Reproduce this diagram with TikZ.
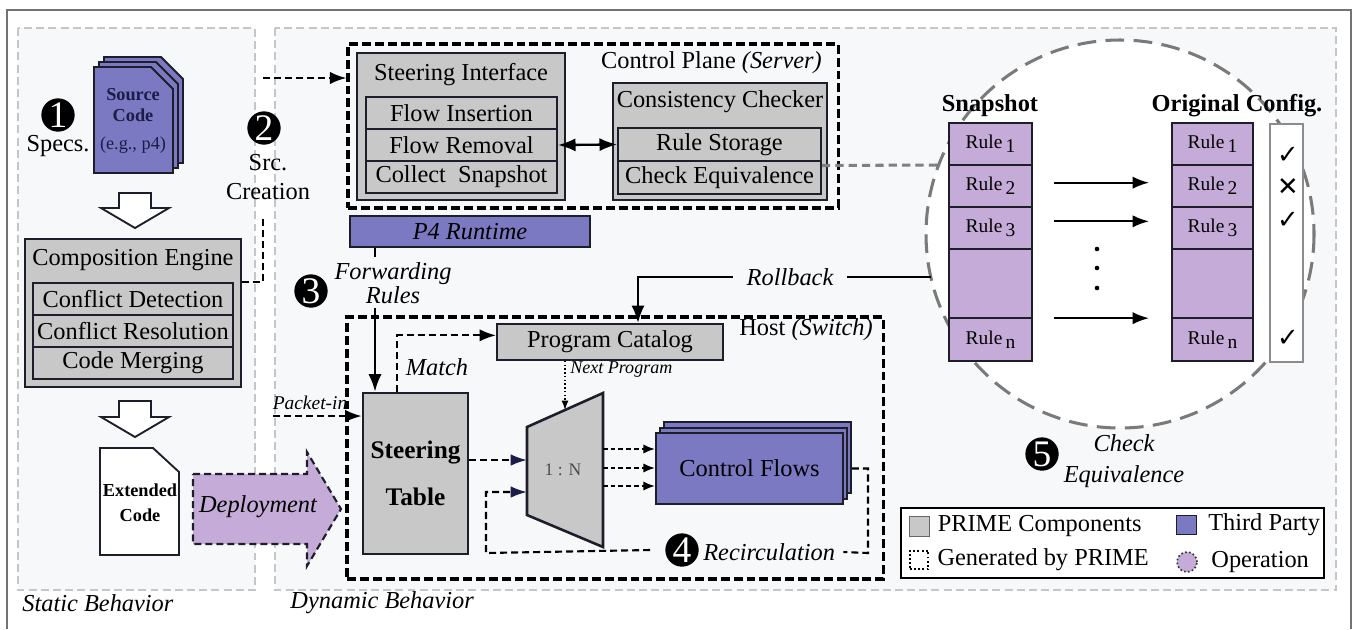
\documentclass[tikz,border=0pt]{standalone}
\usepackage{fontspec}
\setmainfont{Liberation Serif}
\newfontfamily\marksfont{DejaVu Sans}
\usetikzlibrary{arrows.meta,calc,positioning,shadows}

\definecolor{compgray}{HTML}{C8C8C8}
\definecolor{partyblue}{HTML}{7B79C1}
\definecolor{opviolet}{HTML}{C5ABD8}
\definecolor{regionfill}{HTML}{F6F8FA}
\definecolor{regionline}{HTML}{C6C6C6}
\definecolor{boxline}{HTML}{1E1E2A}
\definecolor{navy}{HTML}{1C1C48}

\tikzset{
  every node/.style={font=\fontsize{10.4}{12.5}\selectfont},
  ital/.style={font=\fontsize{10.4}{12.5}\selectfont\itshape},
  bld/.style={font=\fontsize{10.4}{12.5}\selectfont\bfseries},
  region/.style={draw=regionline,fill=regionfill,line width=1pt,dash pattern=on 3.4pt off 1.8pt},
  comp/.style={draw=boxline,fill=compgray,line width=1.1pt,inner sep=0pt},
  row/.style={draw=boxline,fill=compgray,line width=0.8pt,inner sep=0pt,minimum height=0.48cm},
  party/.style={draw=boxline,fill=partyblue,line width=0.8pt,inner sep=0pt},
  genbox/.style={draw=black,line width=1.3pt,dash pattern=on 3.8pt off 1.7pt,inner sep=0pt},
  genline/.style={line width=0.9pt,dash pattern=on 3pt off 1.7pt},
  badge/.style={circle,fill=black,text=white,inner sep=0pt,minimum size=0.5cm,font=\fontsize{16}{16}\selectfont},
  rulebox/.style={draw=boxline,fill=opviolet,line width=0.8pt,inner sep=0pt,font=\fontsize{8.3}{10}\selectfont},
  circdash/.style={draw=black!52,line width=1.3pt,dash pattern=on 8pt off 4pt},
  tickmark/.style={font=\marksfont\fontsize{11}{12}\selectfont}
}

\begin{document}
\begin{tikzpicture}[x=0.015cm,y=-0.015cm]
\def\rl#1{Rule\,\raisebox{-0.45ex}{#1}}
\useasboundingbox (0,0) rectangle (1358,629);
\draw[black!55,line width=0.7pt] (7,629) -- (7,10) -- (1351,10) -- (1351,629);
\draw[region] (18,28) rectangle (255,590);
\draw[region] (275,28) rectangle (1336,590);
\node[ital,anchor=west,inner sep=0pt] (static) at (22,603) {Static Behavior};
\node[ital,anchor=west,inner sep=0pt] (dynamic) at (290,603) {Dynamic Behavior};
\draw[circdash,fill=white] (1120,234) circle (194);

\foreach \d in {10,5,0}
  \filldraw[fill=partyblue,draw=boxline,line width=0.8pt] ({94+\d},{67-\d}) -- ({151+\d},{67-\d}) -- ({173+\d},{89-\d}) -- ({173+\d},{173-\d}) -- ({94+\d},{173-\d}) -- cycle;
\node[align=center,text=navy,font=\fontsize{7.8}{9}\selectfont\bfseries] (srccode) at (133,121) {Source\\Code\\[3pt]{\mdseries (e.g., p4)}};
\node[badge] (b1) at (58,115) {1};
\node (specs) at (58,146) {Specs.};
\node[badge] (b2) at (264,128) {2};
\node[align=center] (srccre) at (268,177) {Src.\\Creation};

\draw[fill=white,draw=boxline,line width=0.8pt] (119,193) -- (151,193) -- (151,208) -- (169,208) -- (135,228) -- (101,208) -- (119,208) -- cycle;
\node[comp,minimum width=3.24cm,minimum height=2.22cm] (compeng) at (133,313) {};
\node (cetitle) at (133,260) {Composition Engine};
\node[row,minimum width=3cm] (confdet) at (133,299) {Conflict Detection};
\node[row,minimum width=3cm] (confres) at (133,331) {Conflict Resolution};
\node[row,minimum width=3cm] (codemrg) at (133,363) {Code Merging};
\draw[fill=white,draw=boxline,line width=0.8pt] (119,401) -- (151,401) -- (151,417) -- (169,417) -- (135,437) -- (101,417) -- (119,417) -- cycle;

\filldraw[fill=white,draw=boxline,line width=0.8pt] (100,448) -- (153,448) -- (179,472) -- (179,555) -- (100,555) -- cycle;
\node[align=center,font=\fontsize{7.8}{10.5}\selectfont\bfseries] (extcode) at (140,503) {Extended\\Code};
\filldraw[fill=opviolet,draw=boxline,genline] (193,474) -- (307,474) -- (307,452) -- (341,509) -- (307,566) -- (307,544) -- (193,544) -- cycle;
\node[ital] (deploy) at (258,507) {Deployment};

\coordinate (srcA) at (263,218);
\coordinate (srcB) at (263,78);
\draw[genline] ([yshift=0.465cm]compeng.east) -| (srcA);

\node[genbox,minimum width=7.35cm,minimum height=2.46cm] (ctrlplane) at (593,126) {};
\draw[genline,-Latex] (srcB) -- (srcB -| ctrlplane.west);
\node[anchor=east] (cplabel) at (830,63) {Control Plane \textit{(Server)}};
\node[comp,minimum width=3.12cm,minimum height=2.205cm] (steerif) at (461,126.5) {};
\node (sititle) at (461,75) {Steering Interface};
\node[row,minimum width=2.865cm] (flowins) at (461.5,113) {Flow Insertion};
\node[row,minimum width=2.865cm] (flowrem) at (461.5,145) {Flow Removal};
\node[row,minimum width=2.865cm] (collect) at (461.5,177) {Collect\ \ Snapshot};
\node[comp,minimum width=3.21cm,minimum height=1.755cm] (conschk) at (720,141.5) {};
\node (cctitle) at (720,102) {Consistency Checker};
\node[row,minimum width=3.045cm,minimum height=0.495cm] (rulestor) at (719.5,144.5) {Rule Storage};
\node[row,minimum width=3.045cm,minimum height=0.495cm] (checkeq) at (719.5,177.5) {Check Equivalence};
\draw[Latex-Latex,line width=1pt] (flowrem.east) -- (rulestor.west);
\coordinate (cmpin) at (939,165);
\draw[draw=black!50,line width=1.3pt,dash pattern=on 3.5pt off 2.2pt] ([yshift=0.18cm]checkeq.east) -- (cmpin);

\node[party,ital,minimum width=3.6cm,minimum height=0.465cm] (p4rt) at (470,231.5) {P4 Runtime};
\node[badge] (b3) at (311,291) {3};
\node[ital,align=center,font=\fontsize{10.4}{10.5}\selectfont\itshape] (fwd) at (393,283) {Forwarding\\Rules};

\node[genbox,minimum width=8.04cm,minimum height=3.93cm] (host) at (615,448) {};
\node[anchor=east] (hostlabel) at (881,330) {Host \textit{(Switch)}};
\node[row,minimum width=3.39cm,minimum height=0.54cm] (progcat) at (610,342) {Program Catalog};
\node[comp,align=center,minimum width=1.575cm,minimum height=2.415cm,font=\fontsize{10.8}{13}\selectfont\bfseries] (steertab) at (415.5,473.5) {Steering\\[7pt]Table};
\coordinate (tl) at (527,427);
\coordinate (tr) at (603,393);
\coordinate (br) at (603,547);
\coordinate (bl) at (527,515);
\filldraw[fill=compgray,draw=boxline,line width=1.1pt] (tl) -- (tr) -- (br) -- (bl) -- cycle;
\node[font=\fontsize{7.5}{9}\selectfont,text=black!70] (ratio) at (563,470) {1 : N};
\node[party,minimum width=2.805cm,minimum height=1.065cm,double copy shadow={shadow xshift=0.06cm,shadow yshift=0.08cm,fill=partyblue,draw=boxline}] (cflow) at (749.5,468.5) {Control Flows};

\coordinate (pktin) at (273,416);
\draw[genline,-Latex] (pktin) -- (pktin -| steertab.west);
\node[font=\fontsize{8.3}{10}\selectfont\itshape] (pktlabel) at (310,403) {Packet-in};
\coordinate (fwdin) at (375,257);
\coordinate (fwdout) at (375,308);
\draw[line width=1pt] (p4rt.south -| fwdin) -- (fwdin);
\draw[line width=1pt,-Latex] (fwdout) -- (fwdout |- steertab.north);
\draw[genline,-Latex] ([xshift=-0.28cm]steertab.north) |- ([yshift=0.1cm]progcat.west);
\node[ital] (match) at (437,367) {Match};
\coordinate (nxt) at ($(tl)!0.5!(tr)$);
\draw[densely dotted,line width=0.6pt,-{Latex[length=4pt]}] (progcat.south -| nxt) -- (nxt);
\node[anchor=west,font=\fontsize{7.7}{9}\selectfont\itshape] (nxtlabel) at (562,370) {Next Program};
\coordinate (inA) at (527,460);
\coordinate (inB) at (527,492);
\draw[genline,-{Latex[length=7pt,width=5pt,color=navy]}] (steertab.east |- inA) -- (inA);
\foreach \yy in {449,468,486}
  \draw[line width=0.9pt,dash pattern=on 2pt off 1.3pt,-{Latex[length=5pt,width=4pt]}] (tr |- 0,\yy) -- (cflow.west |- 0,\yy);
\node[badge] (b4) at (682,550) {4};
\node[ital,anchor=west] (recirc) at (695,552) {Recirculation};
\coordinate (loopR) at (868,553);
\coordinate (loopL) at (486,553);
\draw[genline] ([xshift=0.12cm]cflow.east) -| (loopR) -- (recirc.east);
\draw[genline,-{Latex[length=7pt,width=5pt,color=navy]}] ([xshift=-0.22cm]b4.west) -- (loopL) |- (inB);

\coordinate (rbend) at (931,277);
\coordinate (rbcorner) at (638,277);
\draw[line width=1pt,-Latex] (rbend) -- (rbcorner) -- (rbcorner |- progcat.north);
\node[ital,fill=regionfill,inner xsep=0.2cm] (rollback) at (790,277) {Rollback};

\node[bld] (snaptitle) at (990,106) {Snapshot};
\node[bld] (origtitle) at (1237,106) {Original Config.};
\foreach \tb/\xx/\ww in {s/990.5/1.245,o/1212.5/1.215}{
  \node[rulebox,minimum width=\ww cm,minimum height=0.63cm] (\tb-1) at (\xx,144) {\rl{1}};
  \node[rulebox,minimum width=\ww cm,minimum height=0.63cm] (\tb-2) at (\xx,186) {\rl{2}};
  \node[rulebox,minimum width=\ww cm,minimum height=0.63cm] (\tb-3) at (\xx,228) {\rl{3}};
  \node[rulebox,minimum width=\ww cm,minimum height=1.035cm] (\tb-gap) at (\xx,283.5) {};
  \node[rulebox,minimum width=\ww cm,minimum height=0.645cm] (\tb-n) at (\xx,339.5) {\rl{n}};
}
\draw[line width=0.9pt,-Latex] ([xshift=0.32cm,yshift=0.05cm]s-2.east) -- ([xshift=-0.33cm,yshift=0.05cm]o-2.west);
\draw[line width=0.9pt,-Latex] ([xshift=0.32cm,yshift=0.1cm]s-3.east) -- ([xshift=-0.33cm,yshift=0.1cm]o-3.west);
\draw[line width=0.9pt,-Latex] ([xshift=0.32cm,yshift=0.32cm]s-n.east) -- ([xshift=-0.33cm,yshift=0.32cm]o-n.west);
\foreach \yy in {249,268,288}
  \fill (1097,\yy) circle (2.3);
\node[draw=black!45,fill=white,line width=0.6pt,minimum width=0.495cm,minimum height=3.57cm,inner sep=0pt] (chk) at (1286.5,243) {};
\node[tickmark] (ck1) at (1288,155) {✓};
\node[tickmark] (ck2) at (1288,187) {✕};
\node[tickmark] (ck3) at (1288,220) {✓};
\node[tickmark] (ckn) at (1288,338) {✓};

\node[badge] (b5) at (1042,454) {5};
\node[align=center,font=\fontsize{10.4}{13}\selectfont\itshape] (chklabel) at (1124,461) {Check\\Equivalence};

\node[draw=black,line width=1pt,fill=white,minimum width=6.345cm,minimum height=1.05cm,inner sep=0pt] (legend) at (1112.5,543) {};
\node[draw=black!60,fill=compgray,minimum size=0.3cm,inner sep=0pt] (lgcomp) at (919,526) {};
\node[right=0pt of lgcomp] (lgcomptxt) {PRIME Components};
\node[draw=boxline,fill=partyblue,minimum size=0.29cm,inner sep=0pt] (lgparty) at (1186.5,525) {};
\node[right=0.05cm of lgparty] (lgpartytxt) {Third Party};
\node[draw=black,densely dotted,line width=0.8pt,minimum size=0.28cm,inner sep=0pt] (lggen) at (919,560) {};
\node[right=0pt of lggen] (lggentxt) {Generated by PRIME};
\node[circle,draw=black!80,densely dotted,fill=opviolet,line width=0.7pt,minimum size=0.3cm,inner sep=0pt] (lgop) at (1187,562) {};
\node[right=0.08cm of lgop] (lgoptxt) {Operation};
\end{tikzpicture}
\end{document}
